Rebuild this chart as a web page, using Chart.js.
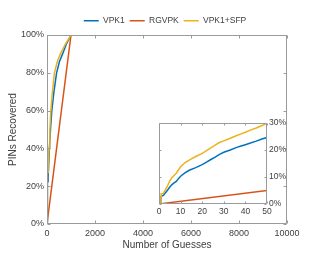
<!DOCTYPE html>
<html>
<head>
<meta charset="utf-8">
<script src="https://cdn.jsdelivr.net/npm/chart.js@4"></script>
<style>
  html, body { margin: 0; padding: 0; background: #fff; }
  #wrap { position: relative; width: 323px; height: 269px; }
  #mainChart { position: absolute; left: 0; top: 0; }
  #insetChart { position: absolute; left: 150px; top: 116px; }
</style>
</head>
<body>
<div id="wrap">
  <canvas id="mainChart" width="323" height="269"></canvas>
  <canvas id="insetChart" width="140" height="105"></canvas>
</div>
<script>
// series
const seriesNames = ['VPK1', 'RGVPK', 'VPK1+SFP'];
const seriesColors = ['#0072BD', '#D95319', '#EDB120'];

// first 50 guesses (zoomed panel)
const headGuesses = [1, 1, 2, 3, 4, 5, 6, 7, 8, 9, 10, 12, 14, 17, 20, 22, 24, 26, 28, 30, 33, 36, 38, 40, 42, 45, 48, 50];
const vpk1Head = [0, 2.8, 3.2, 4.2, 5.2, 6.3, 7.2, 7.8, 8.4, 9.4, 10.3, 11.5, 12.5, 13.5, 14.6, 15.5, 16.5, 17.4, 18.4, 19.2, 20.0, 21.0, 21.5, 22.0, 22.5, 23.3, 24.2, 24.7];
const sfpHead = [0, 3.8, 3.9, 5.3, 6.8, 8.6, 9.8, 10.6, 11.4, 12.6, 13.8, 15.3, 16.3, 17.6, 18.8, 19.8, 20.8, 21.8, 22.8, 23.4, 24.4, 25.4, 26.0, 26.6, 27.3, 28.2, 29.2, 30.0];
const rgvpkHeadGuesses = [0, 50];
const rgvpkHead = [0, 5];

// rest of the curves, up to 10000 guesses
const vpk1TailGuesses = [100, 150, 200, 290, 400, 520, 650, 800, 1000, 10000];
const vpk1Tail = [40, 51, 60, 70, 80, 86, 90, 95, 100, 100];
const sfpTailGuesses = [85, 120, 160, 225, 310, 430, 560, 760, 1000, 10000];
const sfpTail = [40, 50, 60, 70, 80, 86, 90, 95, 100, 100];
const rgvpkGuesses = [0, 1000, 10000];
const rgvpkRecovered = [0, 100, 100];

// ticks
const mainXTicks = [0, 2000, 4000, 6000, 8000, 10000];
const mainYTicks = [0, 20, 40, 60, 80, 100];
const insetXTicks = [0, 10, 20, 30, 40, 50];
const insetYTicks = [0, 10, 20, 30];

const axisColor = '#9a9a9a';
const textColor = '#404040';
Chart.defaults.font.family = '"Liberation Sans", Arial, sans-serif';
Chart.defaults.color = textColor;

const pts = (xs, ys) => xs.map((x, i) => ({x: x, y: ys[i]}));
const setTicks = list => scale => { scale.ticks = list.map(v => ({value: v})); };
const noGrid = { display: false, drawTicks: false, tickLength: 0 };

// matlab style box with inward tick marks
const boxTicks = {
  id: 'boxTicks',
  afterDraw(chart, args, opts) {
    const {ctx, chartArea: a, scales} = chart;
    const len = opts.len;
    const l = Math.round(a.left) + 0.5, r = Math.round(a.right) - 0.5;
    const t = Math.round(a.top) + 0.5, b = Math.round(a.bottom) - 0.5;
    ctx.save();
    ctx.strokeStyle = axisColor;
    ctx.lineWidth = 1;
    ctx.beginPath();
    scales.x.ticks.forEach(tk => {
      const px = Math.round(scales.x.getPixelForValue(tk.value)) + 0.5;
      ctx.moveTo(px, b); ctx.lineTo(px, b - len);
      ctx.moveTo(px, t); ctx.lineTo(px, t + len);
    });
    scales.y.ticks.forEach(tk => {
      const py = Math.round(scales.y.getPixelForValue(tk.value)) + 0.5;
      ctx.moveTo(l, py); ctx.lineTo(l + len, py);
      ctx.moveTo(r, py); ctx.lineTo(r - len, py);
    });
    ctx.rect(l, t, r - l, b - t);
    ctx.stroke();
    ctx.restore();
  }
};

const line = (i, data, order) => ({
  label: seriesNames[i],
  data: data,
  borderColor: seriesColors[i],
  backgroundColor: seriesColors[i],
  borderWidth: 1.5,
  pointRadius: 0,
  tension: 0,
  order: order
});

// main chart
new Chart(document.getElementById('mainChart'), {
  type: 'line',
  data: {
    datasets: [
      line(0, pts(headGuesses.concat(vpk1TailGuesses), vpk1Head.concat(vpk1Tail)), 1),
      line(1, pts(rgvpkGuesses, rgvpkRecovered), 2),
      line(2, pts(headGuesses.concat(sfpTailGuesses), sfpHead.concat(sfpTail)), 0)
    ]
  },
  plugins: [boxTicks],
  options: {
    responsive: false,
    animation: false,
    layout: { padding: { left: 7, top: 11.5, right: 0, bottom: 0 } },
    plugins: {
      legend: {
        labels: {
          usePointStyle: true,
          pointStyle: 'line',
          pointStyleWidth: 15,
          padding: 5,
          color: textColor,
          font: { size: 8.5 },
          sort: (a, b) => a.datasetIndex - b.datasetIndex
        }
      },
      tooltip: { enabled: false },
      boxTicks: { len: 3 }
    },
    scales: {
      x: {
        type: 'linear',
        min: 0,
        max: 10000,
        grid: noGrid,
        border: { display: false },
        afterBuildTicks: setTicks(mainXTicks),
        ticks: { padding: 4, font: { size: 9 }, callback: v => String(v) },
        title: { display: true, text: 'Number of Guesses', font: { size: 10 }, padding: { top: 0, bottom: 18 } },
        afterFit: s => { s.height = 45; }
      },
      y: {
        min: 0,
        max: 100,
        grid: noGrid,
        border: { display: false },
        afterBuildTicks: setTicks(mainYTicks),
        ticks: { padding: 3, font: { size: 9 }, callback: v => v + '%' },
        title: { display: true, text: 'PINs Recovered', font: { size: 10 }, padding: { top: 0, bottom: 0 } },
        afterFit: s => { s.width = 40; }
      },
      yRight: {
        type: 'linear',
        position: 'right',
        min: 0,
        max: 100,
        grid: noGrid,
        border: { display: false },
        ticks: { display: false },
        afterFit: s => { s.width = 36; }
      }
    }
  }
});

// zoomed panel: first 50 guesses
new Chart(document.getElementById('insetChart'), {
  type: 'line',
  data: {
    datasets: [
      line(0, pts(headGuesses, vpk1Head), 1),
      line(1, pts(rgvpkHeadGuesses, rgvpkHead), 2),
      line(2, pts(headGuesses, sfpHead), 0)
    ]
  },
  plugins: [boxTicks],
  options: {
    responsive: false,
    animation: false,
    layout: { padding: { left: 9, top: 7, right: 3, bottom: 0 } },
    plugins: {
      legend: { display: false },
      tooltip: { enabled: false },
      boxTicks: { len: 2 }
    },
    scales: {
      x: {
        type: 'linear',
        min: 0,
        max: 50,
        grid: noGrid,
        border: { display: false },
        afterBuildTicks: setTicks(insetXTicks),
        ticks: { padding: 3, font: { size: 8.5 }, callback: v => String(v) },
        afterFit: s => { s.height = 17; }
      },
      y: {
        position: 'right',
        min: 0,
        max: 30,
        grid: noGrid,
        border: { display: false },
        afterBuildTicks: setTicks(insetYTicks),
        ticks: { padding: 2, font: { size: 8.5 }, callback: v => v + '%' },
        afterFit: s => { s.width = 20; }
      }
    }
  }
});
</script>
</body>
</html>
